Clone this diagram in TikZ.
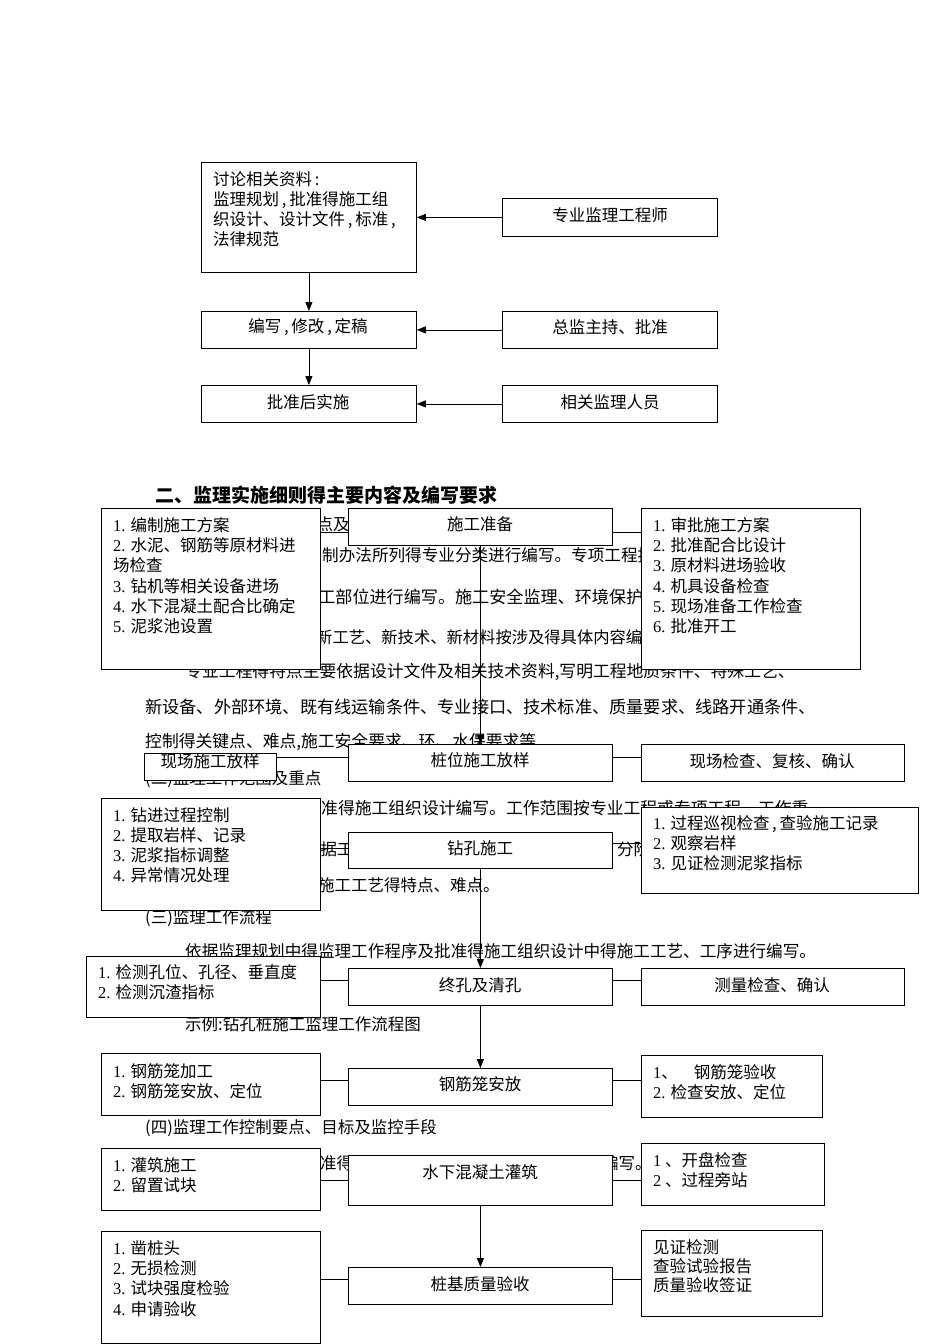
\documentclass[tikz,border=0pt]{standalone}
\usepackage{fontspec}
\setmainfont{Noto Sans CJK SC}
\newfontfamily\latf{Liberation Serif}
\usetikzlibrary{arrows.meta}
\newcommand\nm[1]{{\latf #1}}
\newcommand\drawbox[5]{\node[box,minimum width={#4pt-#2pt},minimum height={#5pt-#3pt}] (#1) at (#2,#3) {};}
\begin{document}
\begin{tikzpicture}[x=1pt,y=-1pt,
  box/.style={draw=black,fill=white,line width=0.8pt,inner sep=0pt,anchor=north west},
  tx/.style={inner sep=0pt,font=\fontsize{16.5}{20.3}\selectfont},
  lst/.style={tx,anchor=north west,align=left},
  bt/.style={inner sep=0pt,anchor=west},
  arr/.style={line width=0.8pt,-{Triangle[length=9pt,width=7pt]}},
  ln/.style={line width=0.8pt}]
\useasboundingbox (0,0) rectangle (950,1344);
\fill[white] (0,0) rectangle (950,1344);

% ---------- background body text ----------
\node[bt,font=\fontsize{19}{20}\selectfont\bfseries] (h) at (155,495) {二、监理实施细则得主要内容及编写要求};
\node[bt,font=\fontsize{16.5}{20}\selectfont] (t1) at (300,524) {特点及监理};
\node[bt,font=\fontsize{16.6}{20}\selectfont] (t2) at (305.4,555) {编制办法所列得专业分类进行编写。专项工程按};
\node[bt,font=\fontsize{17.1}{20}\selectfont] (t3) at (301,597) {施工部位进行编写。施工安全监理、环境保护及};
\node[bt,font=\fontsize{16.3}{20}\selectfont] (t4) at (283.4,637) {采用新工艺、新技术、新材料按涉及得具体内容编};
\node[bt,font=\fontsize{16.8}{20}\selectfont] (t5) at (185,672) {专业工程得特点主要依据设计文件及相关技术资料,写明工程地质条件、特殊工艺、};
\node[bt,font=\fontsize{17.2}{20}\selectfont] (t6) at (145,707) {新设备、外部环境、既有线运输条件、专业接口、技术标准、质量要求、线路开通条件、};
\node[bt,font=\fontsize{16.8}{20}\selectfont] (t7) at (145,742) {控制得关键点、难点,施工安全要求、环、水保要求等};
\node[bt,font=\fontsize{16.5}{20}\selectfont] (t8) at (145,779) {(二)监理工作范围及重点};
\node[bt,font=\fontsize{16.8}{20}\selectfont] (t9) at (321,808) {准得施工组织设计编写。工作范围按专业工程或专项工程、工作重};
\node[bt,font=\fontsize{16.5}{20}\selectfont] (t10a) at (304,849) {依据工程};
\node[bt,font=\fontsize{16.5}{20}\selectfont] (t10b) at (617,849) {分阶};
\node[bt,font=\fontsize{16.5}{20}\selectfont] (t11) at (285,885) {结合施工工艺得特点、难点。};
\node[bt,font=\fontsize{16.5}{20}\selectfont] (t12) at (145,918) {(三)监理工作流程};
\node[bt,font=\fontsize{16.6}{20}\selectfont] (t13) at (185,951) {依据监理规划中得监理工作程序及批准得施工组织设计中得施工工艺、工序进行编写。};
\node[bt,font=\fontsize{16.5}{20}\selectfont] (t14) at (185,1024) {示例:钻孔桩施工监理工作流程图};
\node[bt,font=\fontsize{16.5}{20}\selectfont] (t15) at (145,1128) {(四)监理工作控制要点、目标及监控手段};
\node[bt,font=\fontsize{16.5}{20}\selectfont] (t16a) at (303.5,1163) {批准得施};
\node[bt,font=\fontsize{16.5}{20}\selectfont] (t16b) at (585.5,1163) {计编写。};

% ---------- top flow ----------
\drawbox{A}{201}{162}{416}{272}
\drawbox{B}{502}{198}{717}{236}
\drawbox{C}{201}{311}{416}{348}
\drawbox{D}{502}{311}{717}{348}
\drawbox{E}{201}{385}{416}{422}
\drawbox{F}{502}{385}{717}{422}
\node[lst] (At) at (213,171) {讨论相关资料\,:\\监理规划\,,\,批准得施工组\\织设计、设计文件\,,\,标准\,,\\法律规范};
\node[tx] (Bt) at (610,215) {专业监理工程师};
\node[tx] (Ct) at (308,327) {编写\,,\,修改\,,\,定稿};
\node[tx] (Dt) at (610,327) {总监主持、批准};
\node[tx] (Et) at (308,402) {批准后实施};
\node[tx] (Ft) at (610,402) {相关监理人员};

% ---------- pile flow ----------
\drawbox{P1}{348}{508}{612}{545}
\drawbox{L1}{101}{508}{320}{669}
\drawbox{R1}{641}{508}{860}{669}
\drawbox{P2}{348}{744}{612}{781}
\drawbox{L2}{144}{753}{276}{780}
\drawbox{R2}{641}{744}{904}{781}
\drawbox{P3}{348}{832}{612}{868}
\drawbox{L3}{101}{798}{320}{910}
\drawbox{R3}{641}{807}{918}{893}
\drawbox{P4}{348}{968}{612}{1005}
\drawbox{L4}{86}{956}{320}{1017}
\drawbox{R4}{641}{968}{904}{1005}
\drawbox{P5}{348}{1068}{612}{1105}
\drawbox{L5}{101}{1053}{320}{1115}
\drawbox{R5}{641}{1055}{822}{1117}
\drawbox{P6}{348}{1155}{612}{1205}
\drawbox{L6}{101}{1148}{320}{1210}
\drawbox{R6}{641}{1143}{824}{1205}
\drawbox{P7}{348}{1267}{612}{1304}
\drawbox{L7}{101}{1231}{320}{1343}
\drawbox{R7}{641}{1230}{822}{1316}

\node[tx] (P1t) at (480,524) {施工准备};
\node[tx] (P2t) at (480,760) {桩位施工放样};
\node[tx] (L2t) at (210,761) {现场施工放样};
\node[tx] (R2t) at (772,761) {现场检查、复核、确认};
\node[tx] (P3t) at (480,848) {钻孔施工};
\node[tx] (P4t) at (480,985) {终孔及清孔};
\node[tx] (R4t) at (772,985) {测量检查、确认};
\node[tx] (P5t) at (480,1084) {钢筋笼安放};
\node[tx] (P6t) at (480,1172) {水下混凝土灌筑};
\node[tx] (P7t) at (480,1284) {桩基质量验收};

\node[lst] (L1t) at (113,517) {\nm{1.} 编制施工方案\\\nm{2.} 水泥、钢筋等原材料进\\场检查\\\nm{3.} 钻机等相关设备进场\\\nm{4.} 水下混凝土配合比确定\\\nm{5.} 泥浆池设置};
\node[lst] (R1t) at (653,517) {\nm{1.} 审批施工方案\\\nm{2.} 批准配合比设计\\\nm{3.} 原材料进场验收\\\nm{4.} 机具设备检查\\\nm{5.} 现场准备工作检查\\\nm{6.} 批准开工};
\node[lst] (L3t) at (113,807) {\nm{1.} 钻进过程控制\\\nm{2.} 提取岩样、记录\\\nm{3.} 泥浆指标调整\\\nm{4.} 异常情况处理};
\node[lst] (R3t) at (653,815) {\nm{1.} 过程巡视检查\,,\,查验施工记录\\\nm{2.} 观察岩样\\\nm{3.} 见证检测泥浆指标};
\node[lst] (L4t) at (98,964) {\nm{1.} 检测孔位、孔径、垂直度\\\nm{2.} 检测沉渣指标};
\node[lst] (L5t) at (113,1063) {\nm{1.} 钢筋笼加工\\\nm{2.} 钢筋笼安放、定位};
\node[lst] (R5t) at (653,1064) {\nm{1}、\hspace{16pt}钢筋笼验收\\\nm{2.} 检查安放、定位};
\node[lst] (L6t) at (113,1157) {\nm{1.} 灌筑施工\\\nm{2.} 留置试块};
\node[lst] (R6t) at (653,1152) {\nm{1} 、开盘检查\\\nm{2} 、过程旁站};
\node[lst] (L7t) at (113,1240) {\nm{1.} 凿桩头\\\nm{2.} 无损检测\\\nm{3.} 试块强度检验\\\nm{4.} 申请验收};
\node[lst,font=\fontsize{16.5}{19.3}\selectfont] (R7t) at (653,1239) {见证检测\\查验试验报告\\质量验收签证};

% ---------- connectors ----------
\draw[arr] (B) -- (A);
\draw[arr] (D) -- (C);
\draw[arr] (F) -- (E);
\draw[arr] (A) -- (C);
\draw[arr] (C) -- (E);

\draw[arr] (P1) -- (P2);
\draw[arr] (P3) -- (P4);
\draw[arr] (P4) -- (P5);
\draw[arr] (P6) -- (P7);

\draw[ln] (L1.east |- 0,532) -- (P1.west |- 0,532);
\draw[ln] (P1.east |- 0,532) -- (R1.west |- 0,532);
\draw[ln] (L2.east |- 0,757) -- (P2.west |- 0,757);
\draw[ln] (P2.east |- 0,757) -- (R2.west |- 0,757);
\draw[ln] (L3.east |- 0,848) -- (P3.west |- 0,848);
\draw[ln] (P3.east |- 0,843) -- (R3.west |- 0,843);
\draw[ln] (L4.east |- 0,980) -- (P4.west |- 0,980);
\draw[ln] (P4.east |- 0,980) -- (R4.west |- 0,980);
\draw[ln] (L5.east |- 0,1080) -- (P5.west |- 0,1080);
\draw[ln] (P5.east |- 0,1080) -- (R5.west |- 0,1080);
\draw[ln] (L6.east |- 0,1180) -- (P6.west |- 0,1180);
\draw[ln] (P6.east |- 0,1180) -- (R6.west |- 0,1180);
\draw[ln] (L7.east |- 0,1279) -- (P7.west |- 0,1279);
\draw[ln] (P7.east |- 0,1279) -- (R7.west |- 0,1279);
\end{tikzpicture}
\end{document}
